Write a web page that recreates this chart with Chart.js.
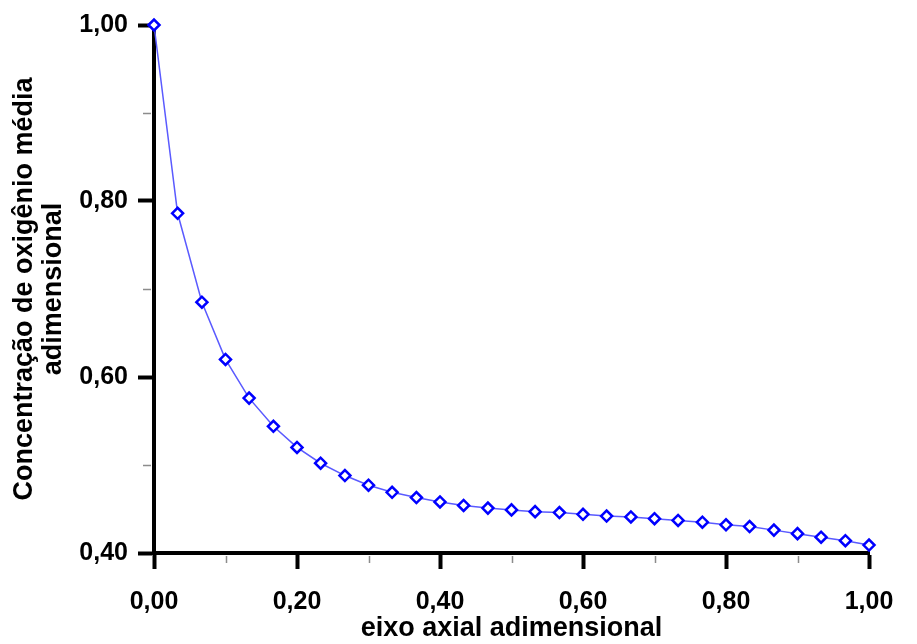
<!DOCTYPE html>
<html>
<head>
<meta charset="utf-8">
<script src="https://cdn.jsdelivr.net/npm/chart.js@4/dist/chart.umd.min.js"></script>
<style>
  html, body { margin: 0; padding: 0; background: #ffffff; }
  #wrap { width: 917px; height: 644px; }
</style>
</head>
<body>
<div id="wrap"><canvas id="c" width="917" height="644"></canvas></div>
<script>
// Axial position (dimensionless) of each computed point
const axialPosition = [
  0.000, 0.033, 0.067, 0.100, 0.133, 0.167, 0.200, 0.233, 0.267, 0.300,
  0.333, 0.367, 0.400, 0.433, 0.467, 0.500, 0.533, 0.567, 0.600, 0.633,
  0.667, 0.700, 0.733, 0.767, 0.800, 0.833, 0.867, 0.900, 0.933, 0.967,
  1.000
];

// Mean dimensionless oxygen concentration at each position
const meanOxygen = [
  1.000, 0.786, 0.685, 0.620, 0.576, 0.544, 0.520, 0.502, 0.488, 0.477,
  0.469, 0.463, 0.458, 0.454, 0.451, 0.449, 0.447, 0.446, 0.444, 0.442,
  0.441, 0.439, 0.437, 0.435, 0.432, 0.430, 0.426, 0.422, 0.418, 0.414,
  0.409
];

// Axis ticks
const xTickValues = [0.0, 0.2, 0.4, 0.6, 0.8, 1.0];
const xTickLabels = ['0,00', '0,20', '0,40', '0,60', '0,80', '1,00'];
const xMinorTicks = [0.1, 0.3, 0.5, 0.7, 0.9];
const yTickValues = [0.4, 0.6, 0.8, 1.0];
const yTickLabels = ['0,40', '0,60', '0,80', '1,00'];
const yMinorTicks = [0.5, 0.7, 0.9];

const xTitle = 'eixo axial adimensional';
const yTitle = ['Concentração de oxigênio média', 'adimensional'];

const FONT = "'Liberation Sans', Arial, sans-serif";

// Short grey marks between the labelled ticks
const minorTicks = {
  id: 'minorTicks',
  beforeDatasetsDraw(chart) {
    const { ctx, chartArea, scales } = chart;
    ctx.save();
    ctx.strokeStyle = '#8c8c8c';
    ctx.lineWidth = 1.5;
    ctx.beginPath();
    yMinorTicks.forEach(v => {
      const y = Math.round(scales.y.getPixelForValue(v)) + 0.5;
      ctx.moveTo(chartArea.left - 11, y);
      ctx.lineTo(chartArea.left - 3, y);
    });
    xMinorTicks.forEach(v => {
      const x = Math.round(scales.x.getPixelForValue(v)) + 0.5;
      ctx.moveTo(x, chartArea.bottom + 3);
      ctx.lineTo(x, chartArea.bottom + 10);
    });
    ctx.stroke();
    ctx.restore();
  }
};

new Chart(document.getElementById('c'), {
  type: 'line',
  data: {
    datasets: [{
      data: axialPosition.map((x, i) => ({ x: x, y: meanOxygen[i] })),
      borderColor: '#5a5aff',
      borderWidth: 1.5,
      tension: 0,
      pointStyle: 'rectRot',
      pointRadius: 5.5,
      pointBorderWidth: 2.5,
      pointBorderColor: '#0000ff',
      pointBackgroundColor: '#ffffff',
      clip: false
    }]
  },
  options: {
    responsive: false,
    animation: false,
    devicePixelRatio: 1,
    layout: { padding: { top: 21, right: 48, left: 0, bottom: 0 } },
    plugins: { legend: { display: false }, tooltip: { enabled: false } },
    scales: {
      x: {
        type: 'linear',
        min: 0,
        max: 1,
        afterFit(scale) { scale.height = 91; },
        afterBuildTicks(scale) { scale.ticks = xTickValues.map(v => ({ value: v })); },
        border: { display: true, color: '#000000', width: 4 },
        grid: {
          drawOnChartArea: false,
          drawTicks: true,
          tickLength: 16,
          tickWidth: 4,
          tickColor: '#000000'
        },
        ticks: {
          padding: 18,
          color: '#000000',
          maxRotation: 0,
          font: { family: FONT, size: 25, weight: 'bold' },
          callback: (v, i) => xTickLabels[i]
        },
        title: {
          display: true,
          text: xTitle,
          color: '#000000',
          font: { family: FONT, size: 27, weight: 'bold', lineHeight: 1.07 },
          padding: { top: 0, bottom: 1 }
        }
      },
      y: {
        type: 'linear',
        min: 0.4,
        max: 1.0,
        afterFit(scale) { scale.width = 154; },
        afterBuildTicks(scale) { scale.ticks = yTickValues.map(v => ({ value: v })); },
        border: { display: true, color: '#000000', width: 4 },
        grid: {
          drawOnChartArea: false,
          drawTicks: true,
          tickLength: 16,
          tickWidth: 4,
          tickColor: '#000000'
        },
        ticks: {
          padding: 10,
          color: '#000000',
          font: { family: FONT, size: 25, weight: 'bold' },
          callback: (v, i) => yTickLabels[i]
        },
        title: {
          display: true,
          text: yTitle,
          color: '#000000',
          font: { family: FONT, size: 27, weight: 'bold', lineHeight: 1.07 },
          padding: { top: 10, bottom: 0 }
        }
      }
    }
  },
  plugins: [minorTicks]
});
</script>
</body>
</html>
